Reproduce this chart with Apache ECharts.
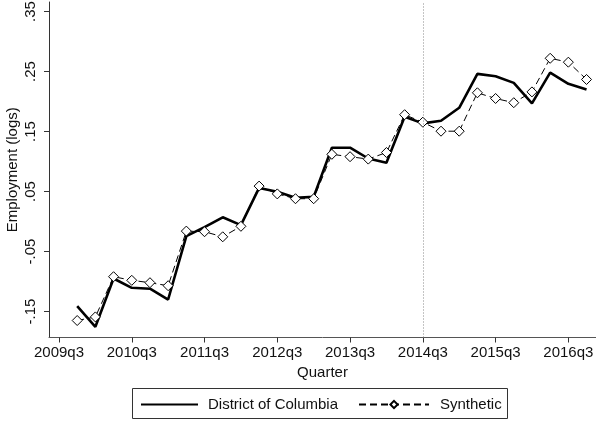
<!DOCTYPE html>
<html>
<head>
<meta charset="utf-8">
<script src="https://cdn.jsdelivr.net/npm/echarts@6/dist/echarts.min.js"></script>
<style>
  html, body { margin: 0; padding: 0; background: #fff; }
  #chart { width: 596px; height: 421px; }
</style>
</head>
<body>
<div id="chart"></div>
<script>
// quarter index: 0 = 2009q3
const quarterIdx = [1, 2, 3, 4, 5, 6, 7, 8, 9, 10, 11, 12, 13, 14, 15, 16, 17, 18, 19, 20, 21, 22, 23, 24, 25, 26, 27, 28, 29];
const dcValues = [-0.141, -0.1755, -0.095, -0.1105, -0.112, -0.13, -0.0245, -0.0095, 0.007, -0.006,
  0.056, 0.0495, 0.0395, 0.041, 0.123, 0.123, 0.105, 0.098, 0.1745, 0.1635,
  0.168, 0.1895, 0.246, 0.242, 0.231, 0.197, 0.248, 0.2295, 0.22];
const synthValues = [-0.165, -0.159, -0.092, -0.098, -0.102, -0.107, -0.016, -0.017, -0.0255, -0.008,
  0.059, 0.046, 0.038, 0.038, 0.112, 0.108, 0.104, 0.115, 0.178, 0.1655,
  0.1505, 0.1505, 0.2145, 0.205, 0.198, 0.216, 0.272, 0.2655, 0.2367];
const xTickPos = [0, 4, 8, 12, 16, 20, 24, 28];
const xTickLabels = ['2009q3', '2010q3', '2011q3', '2012q3', '2013q3', '2014q3', '2015q3', '2016q3'];
const yTicks = [-0.15, -0.05, 0.05, 0.15, 0.25, 0.35];
const treatIdx = 20; // 2014q3

const font = 'Liberation Sans, Arial, Helvetica, sans-serif';
const fs = 15;
const dcData = quarterIdx.map((q, i) => [q, dcValues[i]]);
const synthData = quarterIdx.map((q, i) => [q, synthValues[i]]);

const chart = echarts.init(document.getElementById('chart'));
chart.setOption({
  animation: false,
  backgroundColor: '#fff',
  textStyle: { fontFamily: font },
  grid: { left: 49, right: 0, top: 2, bottom: 83.5, containLabel: false, outerBoundsMode: 'none' },
  xAxis: {
    type: 'value',
    min: -0.55,
    max: 29.52,
    name: 'Quarter',
    nameLocation: 'middle',
    nameGap: 28,
    nameTextStyle: { fontSize: fs, color: '#111', fontFamily: font },
    axisLine: { onZero: false, lineStyle: { color: '#555', width: 1 } },
    axisTick: { show: true, customValues: xTickPos, length: 5, lineStyle: { color: '#333' } },
    axisLabel: {
      customValues: xTickPos,
      margin: 8,
      fontSize: fs,
      color: '#111',
      fontFamily: font,
      formatter: v => xTickLabels[xTickPos.indexOf(Math.round(v))] || ''
    },
    splitLine: { show: false }
  },
  yAxis: {
    type: 'value',
    min: -0.1933,
    max: 0.3658,
    name: 'Employment (logs)',
    nameLocation: 'middle',
    nameGap: 29,
    nameRotate: 90,
    nameMoveOverlap: false,
    nameTextStyle: { fontSize: fs, color: '#111', fontFamily: font },
    axisLine: { show: true, onZero: false, lineStyle: { color: '#333', width: 1 } },
    axisTick: { show: true, customValues: yTicks, length: 5, lineStyle: { color: '#333' } },
    axisLabel: {
      customValues: yTicks,
      rotate: 90,
      margin: 11,
      fontSize: fs,
      color: '#111',
      fontFamily: font,
      formatter: v => {
        const s = Math.abs(v).toFixed(2).replace(/^0/, '');
        return (v < 0 ? '-' : '') + s;
      }
    },
    splitLine: { show: false }
  },
  legend: [
    {
      data: ['District of Columbia'],
      left: 140,
      top: 397,
      padding: 0,
      itemWidth: 57,
      itemHeight: 12,
      itemStyle: { opacity: 0 },
      textStyle: { fontSize: fs, color: '#111', fontFamily: font, padding: [0, 0, 0, 5] }
    },
    {
      data: ['Synthetic'],
      left: 358,
      top: 397,
      padding: 0,
      itemWidth: 70,
      itemHeight: 9,
      textStyle: { fontSize: fs, color: '#111', fontFamily: font, padding: [0, 0, 0, 6] }
    }
  ],
  graphic: [
    {
      type: 'rect',
      shape: { x: 132.5, y: 388.5, width: 375, height: 30 },
      style: { fill: 'none', stroke: '#333', lineWidth: 1 },
      silent: true
    }
  ],
  series: [
    {
      name: 'District of Columbia',
      type: 'line',
      data: dcData,
      showSymbol: false,
      symbol: 'none',
      lineStyle: { color: '#000', width: 2.6 },
      itemStyle: { color: '#000' },
      z: 3,
      markLine: {
        silent: true,
        symbol: 'none',
        label: { show: false },
        lineStyle: { type: [1, 2], color: '#888', width: 1 },
        data: [{ xAxis: treatIdx }]
      }
    },
    {
      name: 'Synthetic',
      type: 'line',
      data: synthData,
      symbol: 'diamond',
      symbolSize: 10,
      lineStyle: { color: '#000', width: 1, type: [7, 4] },
      itemStyle: { color: '#fff', borderColor: '#000', borderWidth: 1 },
      z: 4
    }
  ]
});
</script>
</body>
</html>
